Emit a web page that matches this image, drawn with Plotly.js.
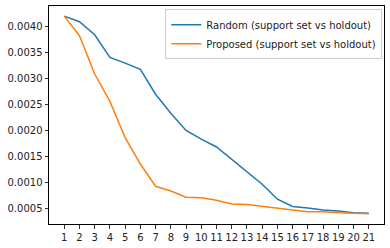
<!DOCTYPE html>
<html>
<head>
<meta charset="utf-8">
<script src="https://cdn.plot.ly/plotly-3.0.1.min.js"></script>
<style>html,body{margin:0;padding:0;background:#fff;}#chart{width:390px;height:248px;}</style>
</head>
<body>
<div id="chart"></div>
<script>
var steps = [1,2,3,4,5,6,7,8,9,10,11,12,13,14,15,16,17,18,19,20,21];
var randomVals = [0.00421,0.00410,0.00385,0.00341,0.00330,0.00318,0.00270,0.00233,0.00200,0.00183,0.00168,0.00144,0.00120,0.00096,0.00067,0.00053,0.00050,0.00046,0.00044,0.00041,0.00040];
var proposedVals = [0.00421,0.00383,0.00309,0.00256,0.00186,0.00135,0.00092,0.00083,0.00071,0.00070,0.00065,0.00058,0.00057,0.00053,0.00049,0.00046,0.00043,0.00043,0.00041,0.00040,0.00039];
var yTicks = [0.0005,0.0010,0.0015,0.0020,0.0025,0.0030,0.0035,0.0040];
var seriesNames = ['Random (support set vs holdout)','Proposed (support set vs holdout)'];

var traces = [
  {x: steps, y: randomVals, mode: 'lines', name: seriesNames[0], line: {color: '#1f77b4', width: 1.5}},
  {x: steps, y: proposedVals, mode: 'lines', name: seriesNames[1], line: {color: '#ff7f0e', width: 1.5}}
];
var axisCommon = {
  showline: true, mirror: true, linecolor: '#000', linewidth: 1,
  ticks: 'outside', ticklen: 3.5, tickwidth: 0.8, tickcolor: '#000',
  showgrid: false, zeroline: false,
  tickfont: {family: 'DejaVu Sans', size: 10, color: '#222'}
};
var layout = {
  width: 390, height: 248,
  margin: {l: 49, r: 6, t: 6, b: 24},
  paper_bgcolor: '#fff', plot_bgcolor: '#fff',
  showlegend: true,
  xaxis: Object.assign({}, axisCommon, {range: [0, 22], tickmode: 'array', tickvals: steps, ticktext: steps.map(String)}),
  yaxis: Object.assign({}, axisCommon, {range: [0.000191, 0.004405], tickmode: 'array', tickvals: yTicks, tickformat: '.4f'}),
  legend: {
    x: 0.995, y: 0.985, xanchor: 'right', yanchor: 'top',
    bgcolor: 'rgba(255,255,255,0.8)', bordercolor: '#ccc', borderwidth: 1,
    font: {family: 'DejaVu Sans', size: 10, color: '#222'},
    itemwidth: 30, tracegroupgap: 0
  }
};
Plotly.newPlot('chart', traces, layout, {staticPlot: true, displayModeBar: false});
</script>
</body>
</html>
